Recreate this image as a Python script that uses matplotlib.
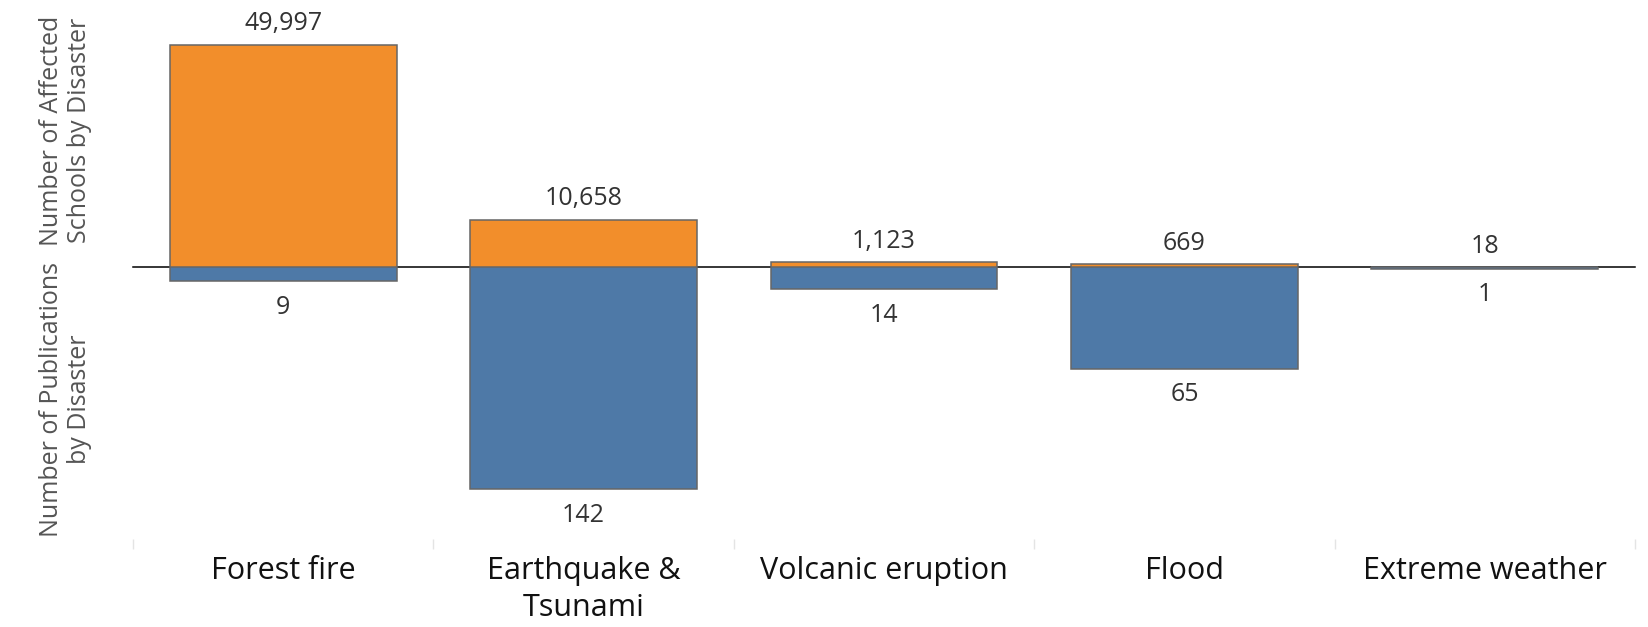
import matplotlib
matplotlib.use("Agg")
import matplotlib.pyplot as plt
from matplotlib.ticker import FixedLocator

plt.rcParams['font.family'] = ['Open Sans', 'DejaVu Sans']

categories = ["Forest fire", "Earthquake &\nTsunami", "Volcanic eruption", "Flood", "Extreme weather"]
affected_schools = [49997, 10658, 1123, 669, 18]
publications = [9, 142, 14, 65, 1]

ORANGE = "#F28E2B"
BLUE = "#4E79A7"
EDGE = "#666666"

W, H = 1649, 627
fig = plt.figure(figsize=(W / 100, H / 100), dpi=100)

left, right = 133 / W, 1635 / W
zero_y = 1 - 267 / H
bottom_y = 1 - 539 / H

ax_top = fig.add_axes([left, zero_y, right - left, 1 - zero_y])
ax_bot = fig.add_axes([left, bottom_y, right - left, zero_y - bottom_y])

x = list(range(len(categories)))
bw = 0.755

ax_top.bar(x, affected_schools, width=bw, color=ORANGE, edgecolor=EDGE, linewidth=1.1, zorder=3)
ax_bot.bar(x, publications, width=bw, color=BLUE, edgecolor=EDGE, linewidth=1.1, zorder=3)

ax_top.set_ylim(0, 60000)
ax_bot.set_ylim(174, 0)

for ax in (ax_top, ax_bot):
    ax.set_xlim(-0.5, len(categories) - 0.5)
    for s in ax.spines.values():
        s.set_visible(False)
    ax.set_yticks([])
    ax.patch.set_alpha(0)

ax_top.set_xticks([])
ax_top.axhline(0, color="black", linewidth=1.1, zorder=2, clip_on=False)

# value labels
for xi, v in zip(x, affected_schools):
    ax_top.annotate(f"{v:,}", (xi, v), xytext=(0, 15), textcoords="offset points",
                    ha="center", va="center", fontsize=18, color="#333333")
for xi, v in zip(x, publications):
    ax_bot.annotate(f"{v:,}", (xi, v), xytext=(0, -19), textcoords="offset points",
                    ha="center", va="center", fontsize=18, color="#333333")

# category axis
ax_bot.set_xticks(x)
ax_bot.set_xticklabels(categories, fontsize=22, color="#111111", linespacing=1.3)
ax_bot.tick_params(axis="x", which="major", length=0, pad=12.5)
ax_bot.xaxis.set_minor_locator(FixedLocator([i - 0.5 for i in range(len(categories) + 1)]))
ax_bot.tick_params(axis="x", which="minor", length=7, width=1, color="#e4e4e4", direction="out")

# axis titles
ax_top.set_ylabel("Number of Affected\nSchools by Disaster", fontsize=18, color="#555555",
                  linespacing=1.2)
ax_top.yaxis.set_label_coords(-0.027, 0.51)
ax_bot.set_ylabel("Number of Publications\nby Disaster", fontsize=18, color="#555555",
                  linespacing=1.2)
ax_bot.yaxis.set_label_coords(-0.027, 0.513)

fig.savefig("out.png", dpi=100, facecolor="white")
